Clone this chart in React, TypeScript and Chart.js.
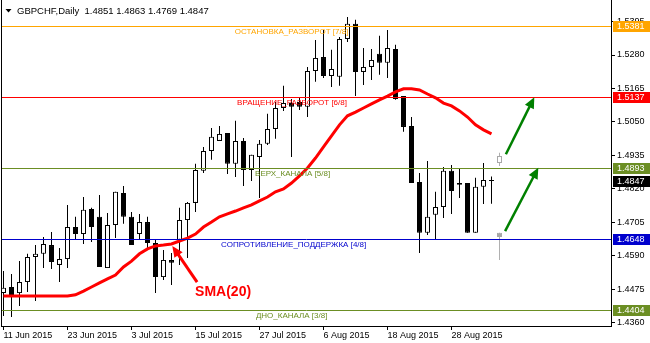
import React, { useEffect, useRef } from 'react';
import { Chart, registerables } from 'chart.js';

Chart.register(...registerables);

// ---- Data (GBPCHF Daily, bar index 0 = 11 Jun 2015) ----
const opens = [
  1.4462, 1.4483, 1.4462, 1.4500, 1.4586, 1.4597, 1.4627, 1.4559, 1.4579, 1.4689,
  1.4665, 1.4751, 1.4724, 1.4548, 1.4696, 1.4806, 1.4724, 1.4665, 1.4706, 1.4634,
  1.4517, 1.4576, 1.4645, 1.4713, 1.4772, 1.4882, 1.4950, 1.4985, 1.5012, 1.4906,
  1.4985, 1.4885, 1.4930, 1.4975, 1.5026, 1.5098, 1.5115, 1.5119, 1.5102, 1.5225,
  1.5273, 1.5208, 1.5205, 1.5335, 1.5387, 1.5222, 1.5239, 1.5284, 1.5253, 1.5301,
  1.5139, 1.5036, 1.4844, 1.4669, 1.4731, 1.4758, 1.4882, 1.4840, 1.4840, 1.4669,
  1.4827, 1.4851,
];
const highs = [
  1.4538, 1.4528, 1.4572, 1.4597, 1.4627, 1.4655, 1.4672, 1.4617, 1.4765, 1.4724,
  1.4792, 1.4755, 1.4799, 1.4737, 1.4810, 1.4830, 1.4741, 1.4734, 1.4724, 1.4645,
  1.4610, 1.4600, 1.4755, 1.4775, 1.4906, 1.4964, 1.5029, 1.5036, 1.5012, 1.5054,
  1.4995, 1.4937, 1.4988, 1.5078, 1.5119, 1.5174, 1.5129, 1.5133, 1.5239, 1.5332,
  1.5366, 1.5298, 1.5342, 1.5411, 1.5401, 1.5304, 1.5301, 1.5346, 1.5366, 1.5315,
  1.5139, 1.5067, 1.4875, 1.4916, 1.4810, 1.4895, 1.4902, 1.4889, 1.4840, 1.4858,
  1.4909, 1.4863,
];
const lows = [
  1.4383, 1.4380, 1.4418, 1.4466, 1.4435, 1.4548, 1.4545, 1.4500, 1.4548, 1.4648,
  1.4631, 1.4638, 1.4552, 1.4548, 1.4651, 1.4700, 1.4627, 1.4648, 1.4617, 1.4462,
  1.4507, 1.4490, 1.4559, 1.4583, 1.4741, 1.4875, 1.4920, 1.4985, 1.4871, 1.4861,
  1.4830, 1.4847, 1.4789, 1.4971, 1.4992, 1.5088, 1.4930, 1.5091, 1.5067, 1.5188,
  1.5201, 1.5170, 1.5174, 1.5325, 1.5139, 1.5177, 1.5194, 1.5212, 1.5201, 1.5126,
  1.5016, 1.4840, 1.4600, 1.4662, 1.4648, 1.4720, 1.4734, 1.4789, 1.4669, 1.4669,
  1.4768, 1.4769,
];
const closes = [
  1.4480, 1.4452, 1.4500, 1.4586, 1.4597, 1.4631, 1.4569, 1.4579, 1.4689, 1.4665,
  1.4748, 1.4689, 1.4552, 1.4696, 1.4810, 1.4724, 1.4627, 1.4706, 1.4634, 1.4517,
  1.4576, 1.4566, 1.4713, 1.4772, 1.4885, 1.4950, 1.4999, 1.5009, 1.4906, 1.4985,
  1.4885, 1.4937, 1.4975, 1.5026, 1.5098, 1.5115, 1.5102, 1.5102, 1.5225, 1.5270,
  1.5208, 1.5232, 1.5335, 1.5387, 1.5222, 1.5239, 1.5263, 1.5253, 1.5304, 1.5129,
  1.5033, 1.4840, 1.4669, 1.4724, 1.4758, 1.4882, 1.4813, 1.4834, 1.4669, 1.4827,
  1.4851, 1.4847,
];
const sma20 = [
  1.4452, 1.4452, 1.4452, 1.4452, 1.4452, 1.4452, 1.4452, 1.4452, 1.4452, 1.4456,
  1.4469, 1.4483, 1.4497, 1.4511, 1.4524, 1.4552, 1.4572, 1.4597, 1.4614, 1.4624,
  1.4627, 1.4631, 1.4641, 1.4651, 1.4665, 1.4689, 1.4706, 1.4724, 1.4734, 1.4744,
  1.4755, 1.4765, 1.4779, 1.4792, 1.4810, 1.4820, 1.4840, 1.4865, 1.4892, 1.4926,
  1.4964, 1.5002, 1.5040, 1.5071, 1.5084, 1.5098, 1.5112, 1.5126, 1.5139, 1.5153,
  1.5164, 1.5164, 1.5160, 1.5146, 1.5133, 1.5115, 1.5105, 1.5088, 1.5067, 1.5040,
  1.5023, 1.5009,
];
// projected (ghost) candles on the next bar
const ghostOpen = [1.4909, 1.4655];
const ghostClose = [1.4933, 1.4669];
const ghostHigh = [1.4944, 1.4669];
const ghostLow = [1.4899, 1.4576];

const tickBars = [0, 8, 16, 24, 32, 40, 48, 56];
const tickLabels = ['11 Jun 2015', '23 Jun 2015', '3 Jul 2015', '15 Jul 2015', '27 Jul 2015', '6 Aug 2015', '18 Aug 2015', '28 Aug 2015'];
const priceTicks = [1.4360, 1.4475, 1.4590, 1.4705, 1.4820, 1.4935, 1.5050, 1.5165, 1.5280, 1.5395];

const levelValues = [1.5381, 1.5137, 1.4893, 1.4648, 1.4404];
const levelNames = ['ОСТАНОВКА_РАЗВОРОТ [7/8]', 'ВРАЩЕНИЕ_РАЗВОРОТ [6/8]', 'ВЕРХ_КАНАЛА [5/8]', 'СОПРОТИВЛЕНИЕ_ПОДДЕРЖКА [4/8]', 'ДНО_КАНАЛА [3/8]'];
const lastPrice = 1.4847;
const titleText = 'GBPCHF,Daily  1.4851 1.4863 1.4769 1.4847';
const smaLabel = 'SMA(20)';

// ---- styles / annotation anchors (data units) ----
const levelColors = ['#FFA500', '#FF0000', '#6B8E23', '#0000CD', '#6B8E23'];
const levelLabelBar = [28.9, 29.2, 31.45, 27.2, 31.55];
const greenArrows = [
  { from: [62.8, 1.4939], to: [66.35, 1.5135] },
  { from: [62.7, 1.4675], to: [66.85, 1.4893] },
];
const redArrow = { from: [24.2, 1.4500], to: [21.1, 1.4624] };
const smaLabelPos = [23.95, 1.4466];
const FONT = '"Liberation Sans", Arial, sans-serif';

function drawArrow(ctx: CanvasRenderingContext2D, x1: number, y1: number, x2: number, y2: number, color: string, width: number, headLen: number, headHalf: number) {
  const ang = Math.atan2(y2 - y1, x2 - x1);
  const bx = x2 - headLen * Math.cos(ang);
  const by = y2 - headLen * Math.sin(ang);
  ctx.save();
  ctx.strokeStyle = color;
  ctx.lineWidth = width;
  ctx.lineCap = 'butt';
  ctx.beginPath();
  ctx.moveTo(x1, y1);
  ctx.lineTo(bx + Math.cos(ang), by + Math.sin(ang));
  ctx.stroke();
  ctx.fillStyle = color;
  ctx.beginPath();
  ctx.moveTo(x2, y2);
  ctx.lineTo(bx + headHalf * Math.sin(ang), by - headHalf * Math.cos(ang));
  ctx.lineTo(bx - headHalf * Math.sin(ang), by + headHalf * Math.cos(ang));
  ctx.closePath();
  ctx.fill();
  ctx.restore();
}

const overlay = {
  id: 'mt4overlay',
  afterDatasetsDraw(chart: any) {
    const { ctx, chartArea, scales } = chart;
    const xs = scales.x;
    const ys = scales.y;
    ctx.save();
    levelValues.forEach((v, i) => {
      const y = Math.round(ys.getPixelForValue(v)) + 0.5;
      ctx.strokeStyle = levelColors[i];
      ctx.lineWidth = 1;
      ctx.beginPath();
      ctx.moveTo(chartArea.left, y);
      ctx.lineTo(chartArea.right, y);
      ctx.stroke();
      ctx.fillStyle = levelColors[i];
      ctx.font = `8px ${FONT}`;
      ctx.textBaseline = 'middle';
      ctx.textAlign = 'left';
      ctx.fillText(levelNames[i], xs.getPixelForValue(levelLabelBar[i]), y + 5.5);
    });
    ctx.restore();
  },
  afterDraw(chart: any) {
    const { ctx, chartArea, scales } = chart;
    const xs = scales.x;
    const ys = scales.y;
    ctx.save();
    // left frame
    ctx.fillStyle = '#000';
    ctx.fillRect(chartArea.left - 1, chartArea.top, 1, chartArea.bottom - chartArea.top + 1);

    // price boxes on right axis
    const boxes = levelValues.map((v, i) => ({ v, c: levelColors[i] }));
    boxes.push({ v: lastPrice, c: '#000000' });
    boxes.forEach(({ v, c }) => {
      const y = Math.round(ys.getPixelForValue(v));
      ctx.fillStyle = c;
      ctx.fillRect(chartArea.right + 2, y - 5, 650 - chartArea.right - 2, 11);
      ctx.fillStyle = '#fff';
      ctx.font = `9px ${FONT}`;
      ctx.textBaseline = 'middle';
      ctx.textAlign = 'left';
      ctx.fillText(v.toFixed(4), chartArea.right + 6, y + 0.5);
    });

    // green arrows
    greenArrows.forEach((a) => {
      drawArrow(ctx, xs.getPixelForValue(a.from[0]), ys.getPixelForValue(a.from[1]), xs.getPixelForValue(a.to[0]), ys.getPixelForValue(a.to[1]), '#008000', 2.5, 11, 5);
    });
    // red SMA arrow + label
    drawArrow(ctx, xs.getPixelForValue(redArrow.from[0]), ys.getPixelForValue(redArrow.from[1]), xs.getPixelForValue(redArrow.to[0]), ys.getPixelForValue(redArrow.to[1]), '#FF0000', 3, 11, 5);
    ctx.fillStyle = '#FF0000';
    ctx.font = `bold 14px ${FONT}`;
    ctx.textBaseline = 'middle';
    ctx.textAlign = 'left';
    ctx.fillText(smaLabel, xs.getPixelForValue(smaLabelPos[0]), ys.getPixelForValue(smaLabelPos[1]));

    // title
    ctx.fillStyle = '#000';
    ctx.beginPath();
    ctx.moveTo(5.5, 9);
    ctx.lineTo(11.5, 9);
    ctx.lineTo(8.5, 12.5);
    ctx.closePath();
    ctx.fill();
    ctx.font = `9.5px ${FONT}`;
    ctx.textBaseline = 'alphabetic';
    ctx.fillText(titleText, 17, 14);
    ctx.restore();
  },
};

export default function App() {
  const ref = useRef<HTMLCanvasElement>(null);
  useEffect(() => {
    if (!ref.current) return;
    const idx = opens.map((_, i) => i);
    const ghostX = opens.length;
    const chart = new Chart(ref.current, {
      type: 'bar',
      data: {
        datasets: [
          {
            type: 'line',
            data: idx.map((i) => ({ x: i, y: sma20[i] })),
            borderColor: '#FF0000',
            borderWidth: 3,
            pointRadius: 0,
            fill: false,
            tension: 0,
            order: 0,
          } as any,
          {
            type: 'bar',
            data: idx.map((i) => ({ x: i, y: [opens[i], closes[i]] })),
            backgroundColor: idx.map((i) => (closes[i] >= opens[i] ? '#FFFFFF' : '#000000')),
            borderColor: '#000000',
            borderWidth: 1,
            borderSkipped: false,
            barThickness: 5,
            grouped: false,
            inflateAmount: 0,
            order: 1,
          } as any,
          {
            type: 'bar',
            data: idx.map((i) => ({ x: i, y: [lows[i], highs[i]] })),
            backgroundColor: '#000000',
            borderWidth: 0,
            barThickness: 1,
            grouped: false,
            inflateAmount: 0,
            order: 2,
          } as any,
          {
            type: 'bar',
            data: ghostOpen.map((o, k) => ({ x: ghostX, y: [o, ghostClose[k]] })),
            backgroundColor: ['#FFFFFF', '#A8A8A8'],
            borderColor: '#A8A8A8',
            borderWidth: 1,
            borderSkipped: false,
            barThickness: 5,
            grouped: false,
            inflateAmount: 0,
            order: 1,
          } as any,
          {
            type: 'bar',
            data: ghostLow.map((l, k) => ({ x: ghostX, y: [l, ghostHigh[k]] })),
            backgroundColor: '#B0B0B0',
            borderWidth: 0,
            barThickness: 1,
            grouped: false,
            inflateAmount: 0,
            order: 2,
          } as any,
        ],
      },
      options: {
        responsive: false,
        animation: false,
        devicePixelRatio: 1,
        events: [],
        layout: { padding: { left: 2, right: 0, top: 0, bottom: 0 } },
        plugins: { legend: { display: false }, tooltip: { enabled: false }, title: { display: false } },
        scales: {
          x: {
            type: 'linear',
            position: 'bottom',
            offset: false,
            min: -0.1875,
            max: 75.9375,
            afterBuildTicks: (s: any) => {
              s.ticks = tickBars.map((v) => ({ value: v }));
            },
            afterFit: (s: any) => {
              s.height = 17;
              s.paddingLeft = 0;
              s.paddingRight = 0;
            },
            ticks: {
              autoSkip: false,
              maxRotation: 0,
              minRotation: 0,
              align: 'start',
              padding: 0,
              color: '#000',
              font: { family: FONT, size: 9 },
              callback: (_v: any, i: number) => tickLabels[i] ?? '',
            },
            grid: { offset: false, drawOnChartArea: false, drawTicks: true, tickLength: 4, tickColor: '#000', tickWidth: 1 },
            border: { display: true, color: '#000', width: 1 },
          },
          y: {
            type: 'linear',
            position: 'right',
            min: 1.4349,
            max: 1.5469,
            afterBuildTicks: (s: any) => {
              s.ticks = priceTicks.map((v) => ({ value: v }));
            },
            afterFit: (s: any) => {
              s.width = 39;
              s.paddingTop = 0;
              s.paddingBottom = 0;
            },
            ticks: {
              autoSkip: false,
              padding: 2,
              color: '#000',
              font: { family: FONT, size: 9 },
              callback: (v: any) => Number(v).toFixed(4),
            },
            grid: { drawOnChartArea: false, drawTicks: true, tickLength: 4, tickColor: '#000', tickWidth: 1 },
            border: { display: true, color: '#000', width: 1 },
          },
        },
      } as any,
      plugins: [overlay],
    });
    return () => chart.destroy();
  }, []);

  return (
    <div style={{ position: 'absolute', left: 0, top: 0, width: 650, height: 343, background: '#fff' }}>
      <canvas ref={ref} width={650} height={343} style={{ display: 'block', width: 650, height: 343 }} />
    </div>
  );
}
